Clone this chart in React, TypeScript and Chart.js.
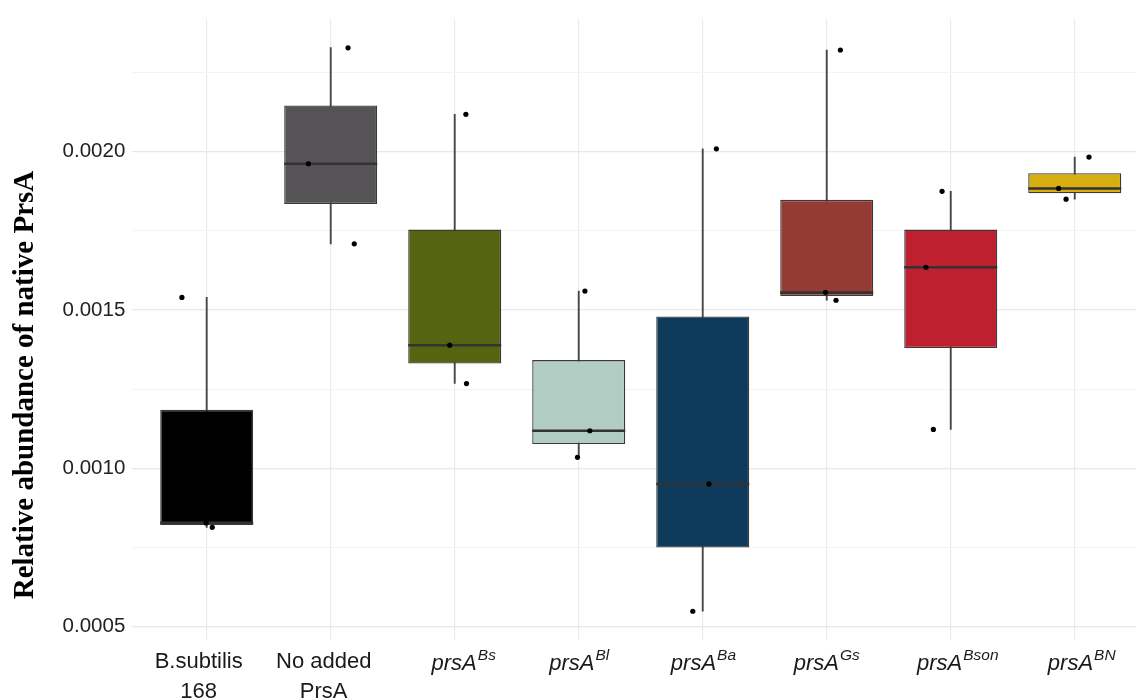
import React, { useEffect, useRef } from 'react';
import { Chart, registerables } from 'chart.js';

Chart.register(...registerables);

const SANS = "'Liberation Sans', Arial, Helvetica, sans-serif";
const SERIF = "'Liberation Serif', 'Times New Roman', serif";

// ---- data ----
const labelMain = ['B.subtilis', 'No added', 'prsA', 'prsA', 'prsA', 'prsA', 'prsA', 'prsA'];
const labelSecond = ['168', 'PrsA', '', '', '', '', '', ''];
const labelSup = ['', '', 'Bs', 'Bl', 'Ba', 'Gs', 'Bson', 'BN'];
const yTitle = 'Relative abundance of native PrsA';

const boxColors = ['#000000', '#555356', '#546410', '#B1CCC3', '#0E3A5C', '#943C33', '#BE202F', '#D6AE10'];

const whiskerLow = [0.000814, 0.001709, 0.001268, 0.001035, 0.000549, 0.001531, 0.001123, 0.00185];
const q1 = [0.000821, 0.001835, 0.001331, 0.001077, 0.00075, 0.001544, 0.00138, 0.001869];
const median = [0.000828, 0.001962, 0.001389, 0.001119, 0.000951, 0.001555, 0.001635, 0.001884];
const q3 = [0.001185, 0.002146, 0.001754, 0.001342, 0.00148, 0.001848, 0.001754, 0.001932];
const whiskerHigh = [0.00154, 0.002329, 0.002118, 0.00156, 0.002009, 0.002321, 0.001875, 0.001983];

const pointValues = [
  [0.00154, 0.000828, 0.000814],
  [0.002328, 0.001962, 0.001709],
  [0.002118, 0.001389, 0.001268],
  [0.00156, 0.001119, 0.001035],
  [0.002009, 0.000951, 0.000549],
  [0.002321, 0.001556, 0.001531],
  [0.001875, 0.001635, 0.001123],
  [0.001983, 0.001884, 0.00185],
];
const pointJitter = [
  [-0.2, -0.005, 0.045],
  [0.14, -0.18, 0.19],
  [0.09, -0.04, 0.095],
  [0.05, 0.09, -0.01],
  [0.11, 0.05, -0.08],
  [0.11, -0.01, 0.075],
  [-0.07, -0.2, -0.14],
  [0.115, -0.13, -0.07],
];

const yTicks = [0.0005, 0.00075, 0.001, 0.00125, 0.0015, 0.00175, 0.002, 0.00225];
const yMajor = [0.0005, 0.001, 0.0015, 0.002];
const isMajor = (v: number) => yMajor.some((m) => Math.abs(m - v) < 1e-9);

const labelOffsets = [-8, -7, 9, 0.5, 0.7, 0, 7, 7];

const boxPlugin = {
  id: 'boxExtras',
  afterDatasetDraw(chart: any, args: any) {
    if (args.index !== 1) return;
    const ctx = chart.ctx;
    const ys = chart.scales.y;
    const meta = chart.getDatasetMeta(1);
    ctx.save();
    ctx.strokeStyle = '#333333';
    ctx.lineWidth = 2.6;
    meta.data.forEach((bar: any, i: number) => {
      const { x, width } = bar.getProps(['x', 'width'], true);
      const y = ys.getPixelForValue(median[i]);
      ctx.beginPath();
      ctx.moveTo(x - width / 2, y);
      ctx.lineTo(x + width / 2, y);
      ctx.stroke();
    });
    ctx.restore();
  },
  afterDraw(chart: any) {
    const ctx = chart.ctx;
    const xs = chart.scales.x;
    ctx.save();
    ctx.fillStyle = '#1a1a1a';
    ctx.textBaseline = 'alphabetic';
    labelMain.forEach((main, i) => {
      const cx = xs.getPixelForValue(i) + labelOffsets[i];
      if (labelSup[i]) {
        ctx.font = `italic 22px ${SANS}`;
        const w1 = ctx.measureText(main).width;
        ctx.font = `italic 15.5px ${SANS}`;
        const w2 = ctx.measureText(labelSup[i]).width;
        const start = cx - (w1 + w2 + 1) / 2;
        ctx.textAlign = 'left';
        ctx.font = `italic 22px ${SANS}`;
        ctx.fillText(main, start, 670);
        ctx.font = `italic 15.5px ${SANS}`;
        ctx.fillText(labelSup[i], start + w1 + 1, 660);
      } else {
        ctx.textAlign = 'center';
        ctx.font = `22px ${SANS}`;
        ctx.fillText(main, cx, 668);
        ctx.fillText(labelSecond[i], cx, 698);
      }
    });
    ctx.translate(33, 385);
    ctx.rotate(-Math.PI / 2);
    ctx.font = `bold 29px ${SERIF}`;
    ctx.textAlign = 'center';
    ctx.fillStyle = '#000000';
    ctx.fillText(yTitle, 0, 0);
    ctx.restore();
  },
};

export default function App() {
  const ref = useRef<HTMLCanvasElement | null>(null);

  useEffect(() => {
    if (!ref.current) return;
    const idx = labelMain.map((_, i) => i);
    const points: { x: number; y: number }[] = [];
    pointValues.forEach((vals, i) =>
      vals.forEach((v, j) => points.push({ x: i + pointJitter[i][j], y: v }))
    );

    const chart = new Chart(ref.current, {
      type: 'bar',
      data: {
        datasets: [
          {
            type: 'scatter',
            data: points,
            backgroundColor: '#000000',
            borderWidth: 0,
            pointRadius: 2.6,
            order: 0,
          } as any,
          {
            type: 'bar',
            data: idx.map((i) => ({ x: i, y: [q1[i], q3[i]] })),
            backgroundColor: boxColors,
            borderColor: '#3a3a3a',
            borderWidth: 1.3,
            borderSkipped: false,
            barPercentage: 0.75,
            categoryPercentage: 1,
            grouped: false,
            order: 1,
          } as any,
          {
            type: 'bar',
            data: idx.map((i) => ({ x: i, y: [whiskerLow[i], whiskerHigh[i]] })),
            backgroundColor: '#444444',
            borderWidth: 0,
            barThickness: 1.2,
            grouped: false,
            order: 2,
          } as any,
        ],
      },
      options: {
        animation: false,
        responsive: true,
        maintainAspectRatio: false,
        layout: { padding: { top: 15, left: 0, right: 0, bottom: 0 } },
        plugins: { legend: { display: false }, tooltip: { enabled: false } },
        scales: {
          x: {
            type: 'linear',
            offset: false,
            min: -0.6,
            max: 7.494,
            afterBuildTicks: (axis: any) => {
              axis.ticks = idx.map((i) => ({ value: i }));
            },
            afterFit: (axis: any) => {
              axis.height = 59;
            },
            ticks: { display: false },
            grid: { color: '#EAEAEA', lineWidth: 1.2, drawTicks: false, offset: false },
            border: { display: false },
          },
          y: {
            type: 'linear',
            min: 0.0004583,
            max: 0.002418,
            afterBuildTicks: (axis: any) => {
              axis.ticks = yTicks.map((v) => ({ value: v }));
            },
            afterFit: (axis: any) => {
              axis.width = 132.3;
            },
            ticks: {
              padding: 7,
              color: '#222222',
              font: { family: SANS, size: 20.5 },
              callback: (v: any) => (isMajor(Number(v)) ? Number(v).toFixed(4) : ''),
            },
            grid: {
              drawTicks: false,
              color: (c: any) => (c.tick && isMajor(c.tick.value) ? '#E8E8E8' : '#F3F3F3'),
              lineWidth: (c: any) => (c.tick && isMajor(c.tick.value) ? 1.3 : 1),
            },
            border: { display: false },
          },
        },
      } as any,
      plugins: [boxPlugin],
    });
    return () => chart.destroy();
  }, []);

  return (
    <div style={{ position: 'absolute', left: 0, top: 0, width: 1140, height: 699, background: '#ffffff' }}>
      <canvas ref={ref} />
    </div>
  );
}
